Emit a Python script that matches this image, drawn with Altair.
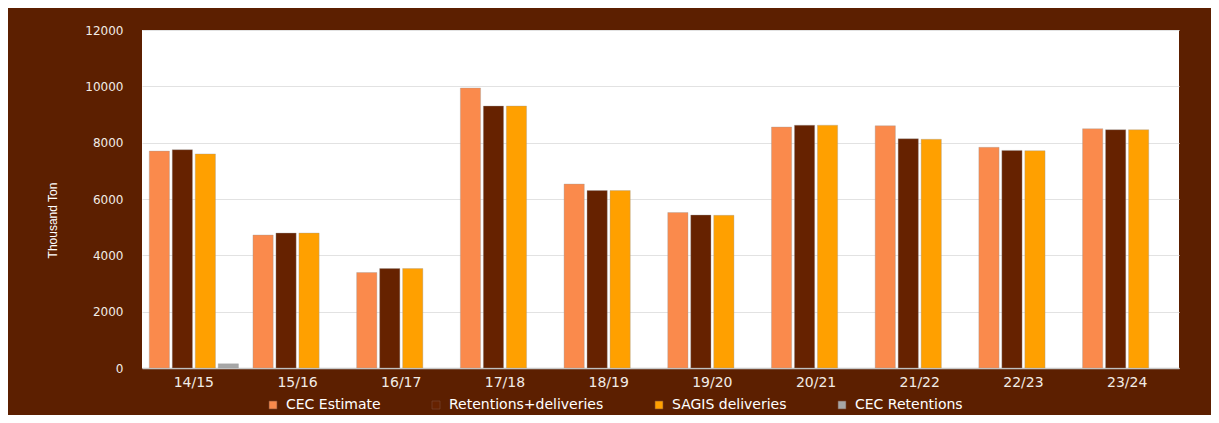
import altair as alt
import pandas as pd

seasons = ["14/15", "15/16", "16/17", "17/18", "18/19", "19/20", "20/21", "21/22", "22/23", "23/24"]
series_names = ["CEC Estimate", "Retentions+deliveries", "SAGIS deliveries", "CEC Retentions"]
cec_estimate = [7700, 4720, 3390, 9940, 6530, 5520, 8555, 8600, 7835, 8495]
retentions_deliveries = [7750, 4790, 3530, 9300, 6300, 5430, 8620, 8140, 7725, 8460]
sagis_deliveries = [7600, 4790, 3530, 9300, 6300, 5420, 8620, 8120, 7715, 8460]
cec_retentions = [150, None, None, None, None, None, None, None, None, None]
colors = ["#FA8A4C", "#662200", "#FFA000", "#A6A6A6"]
y_ticks = [0, 2000, 4000, 6000, 8000, 10000, 12000]

rows = []
for name, vals in zip(series_names, [cec_estimate, retentions_deliveries, sagis_deliveries, cec_retentions]):
    for s, v in zip(seasons, vals):
        if v is not None:
            rows.append({"season": s, "series": name, "value": v})
df = pd.DataFrame(rows)

chart = alt.Chart(df).mark_bar(stroke="#9a9a9a", strokeWidth=0.5, strokeOpacity=0.7).encode(
    x=alt.X(
        "season:N", sort=seasons,
        scale=alt.Scale(domain=seasons, paddingInner=0.14, paddingOuter=0.07),
        axis=alt.Axis(title=None, labelAngle=0, labelColor="#f2ece6", labelFont="DejaVu Sans",
                      labelFontSize=14, labelPadding=7, ticks=False, domainColor="#c8c8c8",
                      domainWidth=1.5, grid=False),
    ),
    xOffset=alt.XOffset("series:N", sort=series_names,
                        scale=alt.Scale(domain=series_names, paddingInner=0.12)),
    y=alt.Y(
        "value:Q",
        scale=alt.Scale(domain=[0, 12000], nice=False),
        axis=alt.Axis(values=y_ticks, format="d", title="Thousand Ton", titleColor="#ffffff",
                      titleFont="Liberation Sans Narrow, Liberation Sans", titleFontSize=12,
                      titleFontWeight="normal", titleAngle=-90, titleX=-90, titleY=190,
                      titleAlign="center", titleBaseline="middle",
                      labelColor="#f2ece6", labelFont="DejaVu Sans", labelFontSize=12,
                      labelPadding=19, ticks=False, domain=False, gridColor="#e2e2e2"),
    ),
    color=alt.Color(
        "series:N",
        scale=alt.Scale(domain=series_names, range=colors),
        legend=alt.Legend(title=None, orient="none", legendX=124, legendY=368,
                          direction="horizontal", symbolType="square", symbolSize=64,
                          symbolStrokeWidth=0.6, symbolStrokeColor="#7a4a35",
                          labelColor="#ffffff", labelFont="DejaVu Sans",
                          labelFontSize=14, columnPadding=48, labelOffset=6, padding=0),
    ),
).properties(
    width=1037, height=338,
    background="#5C1F00",
    padding={"left": 134, "top": 22, "right": 32, "bottom": 47},
    autosize=alt.AutoSizeParams(type="none"),
).configure_view(fill="white", stroke=None)

chart.save("out.html", embed_options={"renderer": "svg", "actions": False})
